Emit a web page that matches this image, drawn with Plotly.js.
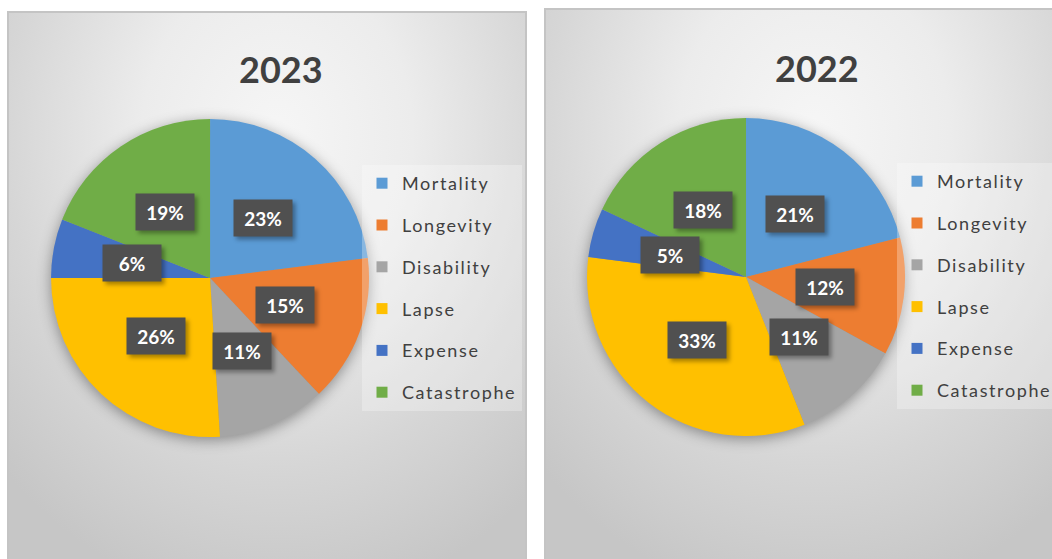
<!DOCTYPE html>
<html>
<head>
<meta charset="utf-8">
<script src="https://cdn.plot.ly/plotly-3.0.1.min.js"></script>
<style>
  html, body { margin: 0; padding: 0; background: #ffffff; }
  #wrap { position: relative; width: 1052px; height: 559px; overflow: hidden; }
  .panel {
    position: absolute; box-sizing: border-box;
    border: 2px solid #c4c4c4;
    background: radial-gradient(ellipse 75% 85% at 52% 22%, #f6f6f6 0%, #ececec 35%, #d6d6d6 70%, #c6c6c6 100%);
  }
  #p1 { left: 7px; top: 11px; width: 520px; height: 560px; }
  #p2 { left: 544px; top: 8px; width: 520px; height: 560px; }
  #chart { position: absolute; left: 0; top: 0; }
  .pielayer .trace { filter: drop-shadow(0px 3px 7px rgba(0,0,0,0.38)); }
  .annotation rect.bg { filter: drop-shadow(3px 3px 2px rgba(0,0,0,0.35)); }
  .legendtext, .infolayer g[class^="legend"] text { letter-spacing: 1.6px !important; }
</style>
</head>
<body>
<div id="wrap">
  <div class="panel" id="p1"></div>
  <div class="panel" id="p2"></div>
  <div id="chart"></div>
</div>
<script>
// ---- data ----
const categories = ["Mortality", "Longevity", "Disability", "Lapse", "Expense", "Catastrophe"];
const values2023 = [23, 15, 11, 26, 6, 19];
const values2022 = [21, 12, 11, 33, 5, 18];
const years = ["2023", "2022"];
const colors = ["#5B9BD5", "#ED7D31", "#A5A5A5", "#FFC000", "#4472C4", "#70AD47"];

// ---- layout geometry ----
const W = 1052, H = 559;
const domains = [
  {x: [0.0485, 0.3508], y: [0.2182, 0.7871]},
  {x: [0.5580, 0.8603], y: [0.2200, 0.7889]}
];
const titlePos = [{x: 281 / W, y: 1 - 69 / H}, {x: 817 / W, y: 1 - 68 / H}];
const legendPos = [{x: 362 / W, y: 1 - 165 / H, name: "legend"}, {x: 897 / W, y: 1 - 163 / H, name: "legend2"}];
const font = "Lato, 'Open Sans', sans-serif";

const seriesList = [values2023, values2022];
const traces = [];
const annotations = [];

seriesList.forEach((vals, i) => {
  const d = domains[i];
  traces.push({
    type: "pie",
    labels: categories,
    values: vals,
    sort: false,
    direction: "clockwise",
    rotation: 0,
    domain: d,
    marker: {colors: colors, line: {width: 0}},
    textinfo: "none",
    hoverinfo: "label+percent",
    showlegend: false
  });

  // legend entries (one group per category so the spacing can be set)
  categories.forEach((c, k) => {
    traces.push({
      type: "scatter", mode: "markers",
      x: [null], y: [null],
      name: c,
      legendgroup: years[i] + c,
      legend: legendPos[i].name,
      marker: {symbol: "square", size: 11, color: colors[k]},
      hoverinfo: "skip",
      showlegend: true
    });
  });

  // title
  annotations.push({
    text: "<b>" + years[i] + "</b>",
    x: titlePos[i].x, y: titlePos[i].y, xref: "paper", yref: "paper",
    xanchor: "center", yanchor: "middle", showarrow: false,
    font: {family: font, size: 36, color: "#404040"}
  });

  // data labels at half radius along slice mid-angle
  const total = vals.reduce((a, b) => a + b, 0);
  const cxPx = (d.x[0] + d.x[1]) / 2 * W;
  const cyPx = (d.y[0] + d.y[1]) / 2 * H;
  const R = Math.min((d.x[1] - d.x[0]) * W, (d.y[1] - d.y[0]) * H) / 2;
  let cum = 0;
  vals.forEach((v) => {
    const mid = (cum + v / 2) / total * 2 * Math.PI;
    cum += v;
    const r = 0.5 * R;
    const px = cxPx + r * Math.sin(mid);
    const py = cyPx + r * Math.cos(mid);
    annotations.push({
      text: "<b>" + Math.round(v / total * 100) + "%</b>",
      x: px / W, y: py / H, xref: "paper", yref: "paper",
      xanchor: "center", yanchor: "middle", showarrow: false,
      width: 44, height: 22, borderpad: 7,
      bgcolor: "#505050",
      font: {family: font, size: 19, color: "#ffffff"}
    });
  });
});

const legendStyle = (p) => ({
  x: p.x, y: p.y, xanchor: "left", yanchor: "top",
  orientation: "v", tracegroupgap: 15.4,
  bgcolor: "rgba(255,255,255,0.28)", borderwidth: 0,
  font: {family: font, size: 18, color: "#404040"},
  itemclick: false, itemdoubleclick: false
});

const layout = {
  width: W, height: H,
  margin: {l: 0, r: 0, t: 0, b: 0, autoexpand: false},
  paper_bgcolor: "rgba(0,0,0,0)",
  plot_bgcolor: "rgba(0,0,0,0)",
  xaxis: {visible: false, fixedrange: true},
  yaxis: {visible: false, fixedrange: true},
  legend: legendStyle(legendPos[0]),
  legend2: legendStyle(legendPos[1]),
  annotations: annotations,
  showlegend: true
};

Plotly.newPlot("chart", traces, layout, {displayModeBar: false, staticPlot: true});
</script>
</body>
</html>
